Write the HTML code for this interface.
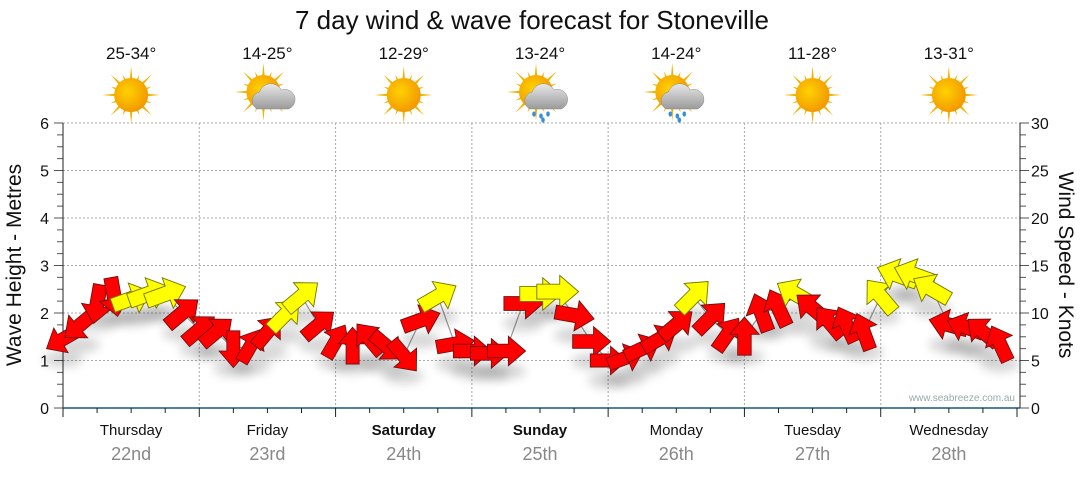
<!DOCTYPE html>
<html><head><meta charset="utf-8"><style>
body{margin:0;background:#fff;}
svg text{font-family:"Liberation Sans",sans-serif;}
</style></head><body>
<svg id="c" width="1080" height="475" viewBox="0 0 1080 475" xmlns="http://www.w3.org/2000/svg">
<defs>
<filter id="sh" x="-50%" y="-50%" width="200%" height="250%"><feGaussianBlur stdDeviation="5"/></filter>
<radialGradient id="sunG" cx="0.4" cy="0.4" r="0.6"><stop offset="0" stop-color="#ffd200"/><stop offset="1" stop-color="#f39a00"/></radialGradient>
<linearGradient id="cloudG" x1="0" y1="0" x2="0" y2="1"><stop offset="0" stop-color="#e8e8e8"/><stop offset="1" stop-color="#9a9a9a"/></linearGradient>
</defs>
<text x="532" y="29" text-anchor="middle" font-size="26" fill="#111">7 day wind &amp; wave forecast for Stoneville</text>
<g id="grid"></g><g id="weather"></g><g id="axes"></g>
<polyline id="waveLine" fill="none" stroke="#999" stroke-width="1.2"/>
<g id="shadows"></g><g id="arrows"></g>
<text x="1015" y="401" text-anchor="end" font-size="10" fill="#9aa">www.seabreeze.com.au</text>
<text transform="translate(21,265) rotate(-90)" text-anchor="middle" font-size="21" fill="#111">Wave Height - Metres</text>
<text transform="translate(1059,265) rotate(90)" text-anchor="middle" font-size="21" fill="#111">Wind Speed - Knots</text>
</svg>
<script>
const days=["Thursday","Friday","Saturday","Sunday","Monday","Tuesday","Wednesday"];
const dates=["22nd","23rd","24th","25th","26th","27th","28th"];
const boldDays=[false,false,true,true,false,false,false];
const temps=["25-34°","14-25°","12-29°","13-24°","14-24°","11-28°","13-31°"];
const weather=["sun","cloud","sun","rain","rain","sun","sun"];
const waveTicks=[0,1,2,3,4,5,6];
const windTicks=[0,5,10,15,20,25,30];
// 3-hourly data, 56 points
const waveHeights=[1.45,1.75,2.2,2.35,2.3,2.4,2.4,2.0,
 1.65,1.6,1.25,1.3,1.6,1.95,2.35,1.75,
 1.4,1.3,1.45,1.3,1.1,1.85,2.35,1.35,
 1.2,1.15,1.2,2.2,2.4,2.45,1.95,1.4,
 1.0,1.05,1.25,1.45,1.75,2.35,1.9,1.55,
 1.5,2.0,2.1,2.4,2.1,1.8,1.75,1.6,
 2.35,2.8,2.8,2.5,1.75,1.7,1.6,1.35];
const windDirs=[150,140,100,80,-20,-20,-20,-40,
 -40,-40,90,-60,-50,-45,-40,-40,
 -60,-90,-130,40,50,-20,-30,-10,
 0,0,0,0,0,0,10,0,
 0,-20,-25,-30,-40,-45,-45,-55,
 -90,-110,-115,-150,-140,-130,-115,-110,
 -130,-160,-160,-150,-165,-160,-140,-115];
const windSpeeds=[11,12,13,13,14,15,15,13,
 12,12,11,11,12,13,14,12,
 11,11,12,12,12,13,14,12,
 12,12,12,13,15,15,13,12,
 11,11,12,12,13,14,13,12,
 12,13,13,14,13,12,12,12,
 14,15,15,14,13,12,12,12];
const strongWind=[1,1,1,1,0,0,0,1, 1,1,1,1,1,0,0,1, 1,1,1,1,1,1,0,1, 1,1,1,1,0,0,1,1, 1,1,1,1,1,0,1,1, 1,1,1,0,1,1,1,1, 0,0,0,0,1,1,1,1];

const NS="http://www.w3.org/2000/svg";
const X0=63,X1=1017,Y0=408,Y1=123;
const dayW=(X1-X0)/7;
const xH=h=>X0+h*dayW/24;
const yW=m=>Y0-(m/6)*(Y0-Y1);
const yK=k=>Y0-(k/30)*(Y0-Y1);
function mk(t,a,p){const e=document.createElementNS(NS,t);for(const k in a)e.setAttribute(k,a[k]);(p||document.getElementById('c')).appendChild(e);return e;}
const grid=document.getElementById('grid'),axes=document.getElementById('axes'),wg=document.getElementById('weather');
waveTicks.forEach(v=>{if(v>0){const l=mk('line',{x1:X0,x2:1020,y1:yW(v),y2:yW(v),stroke:'#aaa','stroke-dasharray':'2,2'},grid);

}
const t=mk('text',{x:49,y:yW(v)+6,'text-anchor':'end','font-size':16,fill:'#111'},axes);t.textContent=v;

});
for(let i=0;i<=24;i++){const y=Y0-i*(Y0-Y1)/24;mk('line',{x1:i%4?57:54,x2:X0,y1:y,y2:y,stroke:'#555'},axes);mk('line',{x1:1020,x2:i%4?1026:1029,y1:y,y2:y,stroke:'#555'},axes);}
windTicks.forEach(v=>{const t=mk('text',{x:1031,y:yK(v)+6,'font-size':16,fill:'#111'},axes);t.textContent=v;

});
mk('line',{x1:X0,x2:X0,y1:Y1,y2:Y0,stroke:'#222'},axes);
mk('line',{x1:1020,x2:1020,y1:Y1,y2:Y0,stroke:'#222'},axes);
mk('line',{x1:X0,x2:1020,y1:Y0,y2:Y0,stroke:'#1a5580','stroke-width':1.5},axes);
for(let q=0;q<=28;q++){const x=xH(q*6);mk('line',{x1:x,x2:x,y1:Y0,y2:Y0+(q%4?5:9),stroke:'#222'},axes);}
days.forEach((d,i)=>{const cx=X0+(i+0.5)*dayW;
if(i>0){const l=mk('line',{x1:X0+i*dayW,x2:X0+i*dayW,y1:Y1,y2:Y0,stroke:'#aaa','stroke-dasharray':'2,2'},grid);

}
const t=mk('text',{x:cx,y:435,'text-anchor':'middle','font-size':15,fill:'#111','font-weight':boldDays[i]?'bold':'normal'},axes);t.textContent=d;


const t2=mk('text',{x:cx,y:460,'text-anchor':'middle','font-size':18,fill:'#888'},axes);t2.textContent=dates[i];


const t3=mk('text',{x:cx,y:59,'text-anchor':'middle','font-size':17,fill:'#111'},wg);t3.textContent=temps[i];


const g=mk('g',{transform:`translate(${cx},95)`},wg);


const sx=weather[i]=='sun'?0:-4, sy=weather[i]=='sun'?0:-3;
for(let r=0;r<16;r++){const a=r*Math.PI/8,L=r%2?22:29;mk('polygon',{points:`${sx+Math.cos(a-0.12)*13},${sy+Math.sin(a-0.12)*13} ${sx+Math.cos(a)*L},${sy+Math.sin(a)*L} ${sx+Math.cos(a+0.12)*13},${sy+Math.sin(a+0.12)*13}`,fill:'#f2b300'},g);}
mk('circle',{cx:sx,cy:sy,r:17,fill:'url(#sunG)'},g);
if(weather[i]!='sun'){mk('path',{d:'M-10,14 a9,9 0 0 1 2,-17 a12,12 0 0 1 22,-2 a10,10 0 0 1 7,19 z',fill:'url(#cloudG)',stroke:'#888','stroke-width':0.5},g);}
if(weather[i]=='rain'){[[-6,19],[1,21],[8,19],[3,25]].forEach(p=>mk('ellipse',{cx:p[0],cy:p[1],rx:1.8,ry:2.6,fill:'#3a8fd8'},g));}
});
const pts=waveHeights.map((m,i)=>[xH(i*3),yW(m)]);
document.getElementById('waveLine').setAttribute('points',pts.map(p=>p.join(',')).join(' '));
const sg=document.getElementById('shadows'),ag=document.getElementById('arrows');
waveHeights.forEach((m,i)=>{const [x,y]=pts[i];const s=0.75+windSpeeds[i]/25;
const sh=mk('ellipse',{cx:x,cy:y+20,rx:20,ry:8,fill:'#000',opacity:0.16,filter:'url(#sh)'},sg);


const a=mk('polygon',{points:'-15,-5.5 2,-5.5 2,-12 16,0 2,12 2,5.5 -15,5.5',
transform:`translate(${x},${y}) rotate(${windDirs[i]}) scale(${s})`,fill:strongWind[i]?'#ff0000':'#ffff00',stroke:strongWind[i]?'#6a1010':'#777700','stroke-width':0.7},ag);

});
</script>
</body></html>
